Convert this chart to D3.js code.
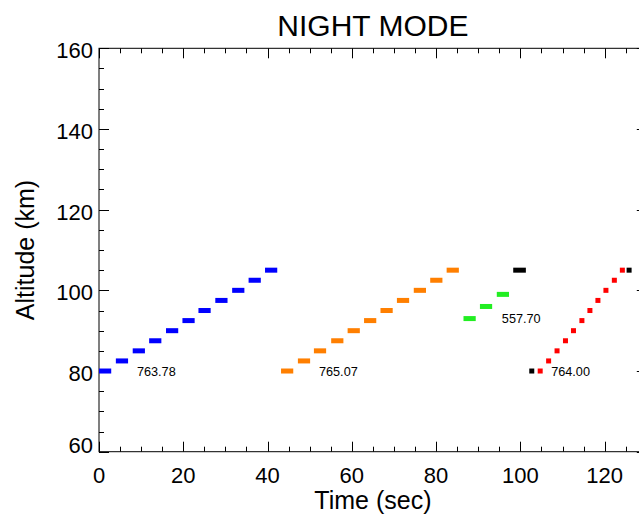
<!DOCTYPE html>
<html><head><meta charset="utf-8">
<script src="https://cdn.jsdelivr.net/npm/d3@7"></script>
<style>body{margin:0;background:#fff;} svg{display:block;} text{font-family:"Liberation Sans",Arial,Helvetica,sans-serif;}</style>
</head><body>
<svg id="c" width="639" height="514"></svg>
<script>
// ---- data ----
const altSteps = [80, 82.5, 85, 87.5, 90, 92.5, 95, 97.5, 100, 102.5, 105];
const blueStart = [0, 4.0, 8.0, 11.9, 15.9, 19.8, 23.6, 27.6, 31.6, 35.5, 39.4];
const blueEnd   = [2.9, 6.9, 10.9, 14.8, 18.8, 22.7, 26.5, 30.5, 34.5, 38.4, 42.3];
const orangeStart = [43.2, 47.2, 51.0, 55.1, 59.0, 62.9, 66.8, 70.7, 74.7, 78.6, 82.5];
const orangeEnd   = [46.1, 50.1, 53.9, 58.0, 61.9, 65.8, 69.7, 73.6, 77.6, 81.5, 85.4];
const greenStart = [86.5, 90.4, 94.4];
const greenEnd   = [89.4, 93.3, 97.3];
const greenAlt   = [93, 96, 99];
const blackSegStart = [98.3];
const blackSegEnd   = [101.3];
const blackSegAlt   = [105];
const redTime = [104.7, 106.7, 108.7, 110.7, 112.6, 114.6, 116.5, 118.4, 120.3, 122.3, 124.2];
const blackPtTime = [102.7, 125.8];
const blackPtAlt  = [80, 105];
const labelText = ["763.78", "765.07", "557.70", "764.00"];
const labelT    = [9.0, 52.2, 95.6, 107.3];
const labelAlt  = [80, 80, 93, 80];
const xTicks = [0, 20, 40, 60, 80, 100, 120];
const yTicks = [60, 80, 100, 120, 140, 160];

// ---- layout ----
const svg = d3.select("#c");
const x = d3.scaleLinear().domain([0, 130]).range([99, 646.8]);
const y = d3.scaleLinear().domain([60, 160]).range([451.7, 48.3]);
const X0 = x.range()[0], X1 = x.range()[1], Y0 = y.range()[0], Y1 = y.range()[1];

// frame
svg.append("rect").attr("x", X0).attr("y", Y1).attr("width", X1 - X0).attr("height", Y0 - Y1)
  .attr("fill", "none").attr("stroke", "#000").attr("stroke-width", 1);

const major = 10, minor = 5;
const g = svg.append("g").attr("stroke", "#000").attr("stroke-width", 1);
d3.range(0, 131, 5).forEach(v => {
  const L = (v % 20 === 0) ? major : minor;
  const px = Math.round(x(v)) + 0.5;
  g.append("line").attr("x1", px).attr("x2", px).attr("y1", Y0).attr("y2", Y0 - L);
  g.append("line").attr("x1", px).attr("x2", px).attr("y1", Y1).attr("y2", Y1 + L);
});
d3.range(60, 161, 5).forEach(v => {
  const L = (v % 20 === 0) ? major : minor;
  const py = Math.round(y(v)) + 0.5;
  g.append("line").attr("x1", X0).attr("x2", X0 + L).attr("y1", py).attr("y2", py);
  g.append("line").attr("x1", X1).attr("x2", X1 - L).attr("y1", py).attr("y2", py);
});

// tick labels
svg.append("g").selectAll("text").data(xTicks).join("text")
  .attr("x", d => x(d)).attr("y", 483).attr("text-anchor", "middle")
  .attr("font-size", 22).text(d => d);
svg.append("g").selectAll("text").data(yTicks).join("text")
  .attr("x", 93).attr("y", d => y(d) + 8 + (d === 60 ? -7 : 2)).attr("text-anchor", "end")
  .attr("font-size", 22).text(d => d);

// titles
svg.append("text").attr("x", (X0 + X1) / 2).attr("y", 36).attr("text-anchor", "middle")
  .attr("font-size", 30).text("NIGHT MODE");
svg.append("text").attr("x", (X0 + X1) / 2).attr("y", 509).attr("text-anchor", "middle")
  .attr("font-size", 25).text("Time (sec)");
svg.append("text").attr("transform", `translate(34,${(Y0 + Y1) / 2}) rotate(-90)`)
  .attr("text-anchor", "middle").attr("font-size", 25).text("Altitude (km)");

// segments
const segH = 5;
function segs(starts, ends, alts, color) {
  svg.append("g").selectAll("rect").data(starts).join("rect")
    .attr("x", (d, i) => x(d)).attr("width", (d, i) => x(ends[i]) - x(d))
    .attr("y", (d, i) => y(alts[i]) - segH / 2).attr("height", segH)
    .attr("fill", color);
}
segs(blueStart, blueEnd, altSteps, "#0000ff");
segs(orangeStart, orangeEnd, altSteps, "#ff7f00");
segs(greenStart, greenEnd, greenAlt, "#22ee22");
segs(blackSegStart, blackSegEnd, blackSegAlt, "#000000");

const sq = 5;
svg.append("g").selectAll("rect").data(redTime).join("rect")
  .attr("x", d => x(d) - sq / 2).attr("y", (d, i) => y(altSteps[i]) - sq / 2)
  .attr("width", sq).attr("height", sq).attr("fill", "#ff0000");
svg.append("g").selectAll("rect").data(blackPtTime).join("rect")
  .attr("x", d => x(d) - sq / 2).attr("y", (d, i) => y(blackPtAlt[i]) - sq / 2)
  .attr("width", sq).attr("height", sq).attr("fill", "#000");

// labels
svg.append("g").selectAll("text").data(labelText).join("text")
  .attr("x", (d, i) => x(labelT[i])).attr("y", (d, i) => y(labelAlt[i]) + 4.5)
  .attr("font-size", 12.7).text(d => d);
</script>
</body></html>
